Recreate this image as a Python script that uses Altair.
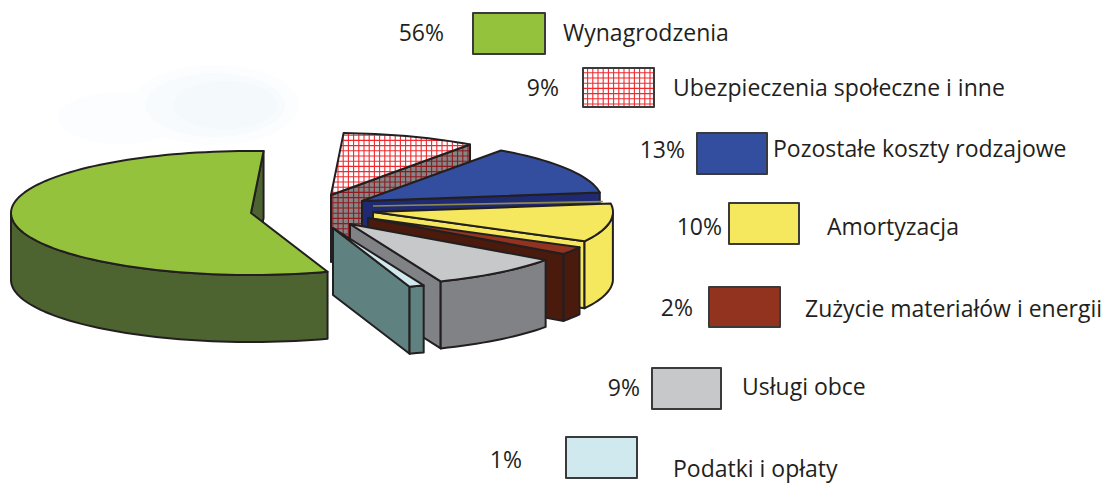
import math
import altair as alt
import pandas as pd

# ---- values (legend order, clockwise round the pie)
categories = ["Wynagrodzenia", "Ubezpieczenia społeczne i inne", "Pozostałe koszty rodzajowe",
              "Amortyzacja", "Zużycie materiałów i energii", "Usługi obce", "Podatki i opłaty"]
shares = [56, 9, 13, 10, 2, 9, 1]
share_labels = ["56%", "9%", "13%", "10%", "2%", "9%", "1%"]

# ---- styles
top_colors = ["#95c23d", "#ffffff", "#334d9f", "#f5e85f", "#92331f", "#c7c8ca", "#cfe9ee"]
side_colors = ["#4d6430", "#868686", "#1f2a72", "#f5e85f", "#4a1b0c", "#808285", "#5f8281"]
INK = "#231f20"
GRID_TOP = "#ee2a2e"
GRID_SIDE = "#8e1b20"

# ---- layout (page pixels)
W, H = 1094, 477
OFF = 8
RX, RY, DEPTH = 240, 62, 67
START = 288.6
apexes = [(251, 213), (331, 195), (362, 201), (373, 212), (368, 218), (350, 224), (333, 228)]
swatches = [(473, 13, 545, 54), (583, 68, 654, 107), (697, 133, 767, 174), (729, 203, 799, 244),
            (709, 287, 780, 327), (652, 368, 721, 409), (566, 437, 637, 478)]
label_x = [563, 673, 773, 827, 805, 742, 673]
label_y = [34, 89, 150, 228, 310, 388, 470]
pct_x = [444, 559, 685, 722, 693, 640, 522]
pct_y = [34, 89, 151, 228, 309, 389, 461]
FONT = "Open Sans"
FONT_SIZE = 23
LINE = 2


def P(x, y):
    return [x - OFF, y - OFF]


def feature(kind, coords, fill="transparent", stroke="transparent", sw=0):
    if kind == "Polygon":
        ring = [P(*c) for c in coords]
        ring.append(ring[0])
        geom = {"type": "Polygon", "coordinates": [ring]}
    else:
        geom = {"type": "LineString", "coordinates": [P(*c) for c in coords]}
    return {"type": "Feature", "geometry": geom, "properties": {"fill": fill, "stroke": stroke, "sw": sw}}


def rim(apex, deg):
    a = math.radians(deg)
    return (apex[0] + RX * math.cos(a), apex[1] - RY * math.sin(a))


def arc(apex, lo, hi):
    n = max(2, int((hi - lo) / 2) + 1)
    return [rim(apex, lo + (hi - lo) * i / n) for i in range(n + 1)]


def drop(p):
    return (p[0], p[1] + DEPTH)


def grid_lines(poly, color, step=5.2):
    """Clip a square grid to a polygon so it reads as the pattern fill."""
    out = []
    xs = [p[0] for p in poly]
    ys = [p[1] for p in poly]
    edges = list(zip(poly, poly[1:] + poly[:1]))
    x = math.floor(min(xs) / step) * step + step
    while x < max(xs):
        hits = sorted(a[1] + (x - a[0]) / (b[0] - a[0]) * (b[1] - a[1])
                      for a, b in edges if (a[0] - x) * (b[0] - x) < 0)
        for i in range(0, len(hits) - 1, 2):
            out.append(feature("LineString", [(x, hits[i]), (x, hits[i + 1])], stroke=color, sw=1.1))
        x += step
    y = math.floor(min(ys) / step) * step + step
    while y < max(ys):
        hits = sorted(a[0] + (y - a[1]) / (b[1] - a[1]) * (b[0] - a[0])
                      for a, b in edges if (a[1] - y) * (b[1] - y) < 0)
        for i in range(0, len(hits) - 1, 2):
            out.append(feature("LineString", [(hits[i], y), (hits[i + 1], y)], stroke=color, sw=1.1))
        y += step
    return out


def blob(cx, cy, rx, ry, color):
    pts = [(cx + rx * math.cos(math.radians(d)), cy + ry * math.sin(math.radians(d))) for d in range(0, 360, 10)]
    return feature("Polygon", pts, fill=color)


# slice angle ranges come from the shares
ranges = []
hi = START
for s in shares:
    lo = hi - 3.6 * s
    ranges.append((lo, hi))
    hi = lo

# very faint soft wash behind the pie
features = [blob(120, 118, 62, 26, "#fcfdfe"), blob(215, 105, 84, 40, "#fbfdfe"),
            blob(215, 105, 70, 32, "#f8fbfd"), blob(225, 105, 52, 24, "#f4f9fc")]


def add_slice(i):
    apex = apexes[i]
    lo, hi = ranges[i]
    hatched = categories[i].startswith("Ubezp")
    wall = [apex, rim(apex, lo), drop(rim(apex, lo)), drop(apex)]
    features.append(feature("Polygon", wall, fill=side_colors[i]))
    if hatched:
        features.extend(grid_lines(wall, GRID_SIDE))
    features.append(feature("Polygon", wall, stroke=INK, sw=LINE))
    front = [p for p in arc(apex, lo, hi) if p[1] >= apex[1] - 0.01]
    if len(front) > 1:
        side = front + [drop(p) for p in reversed(front)]
        features.append(feature("Polygon", side, fill=side_colors[i], stroke=INK, sw=LINE))
    top = [apex] + arc(apex, lo, hi)
    features.append(feature("Polygon", top, fill=top_colors[i]))
    if hatched:
        features.extend(grid_lines(top, GRID_TOP))
    features.append(feature("Polygon", top, stroke=INK, sw=LINE))


for idx in range(len(categories)):
    add_slice(idx)

# thin olive sliver where the yellow slice meets the one behind it
y_apex = apexes[3]
y_end = rim(y_apex, ranges[3][1])
features.append(feature("LineString", [(y_apex[0], y_apex[1] - 6), (y_end[0] - 8, y_end[1] - 2)],
                        stroke="#8c8a50", sw=1.6))

for i, (x0, y0, x1, y1) in enumerate(swatches):
    box = [(x0, y0), (x1, y0), (x1, y1), (x0, y1)]
    features.append(feature("Polygon", box, fill=top_colors[i]))
    if categories[i].startswith("Ubezp"):
        features.extend(grid_lines(box, GRID_TOP))
    features.append(feature("Polygon", box, stroke="#3a3a3c", sw=LINE))

shapes = alt.Chart(alt.Data(values=features)).mark_geoshape(strokeJoin="round").encode(
    fill=alt.Fill("properties.fill:N", scale=None),
    stroke=alt.Stroke("properties.stroke:N", scale=None),
    strokeWidth=alt.StrokeWidth("properties.sw:Q", scale=None),
).project(type="identity", scale=1, translate=[0, 0])

x_scale = alt.Scale(domain=[0, W], nice=False, zero=False)
y_scale = alt.Scale(domain=[H, 0], nice=False, zero=False)

names = pd.DataFrame({"t": categories, "x": [v - OFF for v in label_x], "y": [v - OFF for v in label_y]})
pcts = pd.DataFrame({"t": share_labels, "x": [v - OFF for v in pct_x], "y": [v - OFF for v in pct_y]})

name_text = alt.Chart(names).mark_text(align="left", baseline="middle", font=FONT, fontSize=FONT_SIZE, color=INK).encode(
    x=alt.X("x:Q", scale=x_scale, axis=None), y=alt.Y("y:Q", scale=y_scale, axis=None), text="t:N")
pct_text = alt.Chart(pcts).mark_text(align="right", baseline="middle", font=FONT, fontSize=FONT_SIZE, color=INK).encode(
    x=alt.X("x:Q", scale=x_scale, axis=None), y=alt.Y("y:Q", scale=y_scale, axis=None), text="t:N")

chart = alt.layer(shapes, name_text, pct_text).properties(
    width=W, height=H, padding=0, autosize=alt.AutoSizeParams(type="none"),
    background="white",
).configure_view(stroke=None)

chart.save("out.html", embed_options={"renderer": "svg", "actions": False})
